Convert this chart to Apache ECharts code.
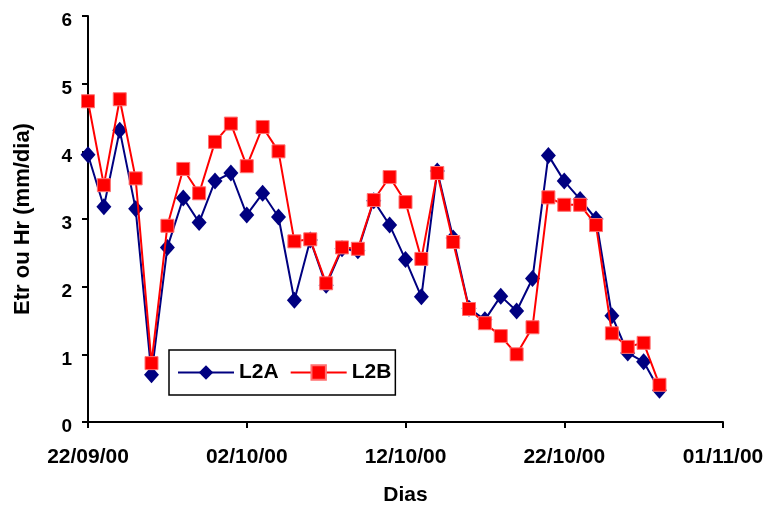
<!DOCTYPE html>
<html><head><meta charset="utf-8">
<script src="https://cdn.jsdelivr.net/npm/echarts@6/dist/echarts.min.js"></script>
<style>html,body{margin:0;padding:0;background:#fff}#c{width:767px;height:506px}</style>
</head><body><div id="c"></div>
<script>
// day offsets from 22/09/00
const days = [0,1,2,3,4,5,6,7,8,9,10,11,12,13,14,15,16,17,18,19,20,21,22,23,24,25,26,27,28,29,30,31,32,33,34,35,36];
const l2a = [3.95,3.18,4.31,3.15,0.70,2.58,3.31,2.95,3.56,3.68,3.06,3.38,3.03,1.80,2.69,2.02,2.56,2.53,3.27,2.91,2.40,1.85,3.71,2.72,1.68,1.51,1.86,1.64,2.12,3.94,3.56,3.29,3.00,1.57,1.02,0.89,0.47];
const l2b = [4.74,3.50,4.77,3.60,0.87,2.90,3.74,3.38,4.14,4.41,3.78,4.36,4.00,2.67,2.70,2.05,2.58,2.56,3.28,3.62,3.25,2.41,3.68,2.66,1.67,1.46,1.27,1.00,1.40,3.32,3.21,3.21,2.91,1.31,1.11,1.17,0.55];
const xTickLabels = ['22/09/00','02/10/00','12/10/00','22/10/00','01/11/00'];
const yTicks = [0,1,2,3,4,5,6];

const font = 'Arial, "Liberation Sans", sans-serif';
const chart = echarts.init(document.getElementById('c'));
chart.setOption({
  backgroundColor: '#fff',
  animation: false,
  grid: {left: 88, right: 44, top: 16, bottom: 84, outerBoundsMode: 'none', containLabel: false},
  xAxis: {
    type: 'value', min: 0, max: 40, interval: 10,
    name: 'Dias', nameLocation: 'middle', nameGap: 63,
    nameTextStyle: {fontFamily: font, fontWeight: 'bold', fontSize: 21, color: '#000'},
    axisLine: {lineStyle: {color: '#000', width: 2}},
    axisTick: {show: true, length: 6, lineStyle: {color: '#000', width: 2}},
    axisLabel: {margin: 25, fontFamily: font, fontWeight: 'bold', fontSize: 21, color: '#000',
      formatter: v => xTickLabels[Math.round(v/10)] || ''},
    splitLine: {show: false}
  },
  yAxis: {
    type: 'value', min: yTicks[0], max: yTicks[yTicks.length-1], interval: 1,
    name: 'Etr ou Hr (mm/dia)', nameLocation: 'middle', nameGap: 54,
    nameTextStyle: {fontFamily: font, fontWeight: 'bold', fontSize: 22, color: '#000'},
    axisLine: {show: true, lineStyle: {color: '#000', width: 2}},
    axisTick: {show: true, length: 6, lineStyle: {color: '#000', width: 2}},
    axisLabel: {margin: 16, verticalAlign: 'top', lineHeight: 10, fontFamily: font, fontWeight: 'bold', fontSize: 19, color: '#000'},
    splitLine: {show: false}
  },
  legend: {
    left: 169, top: 350,
    orient: 'horizontal', itemGap: 11, itemWidth: 56, itemHeight: 18,
    padding: [12, 4, 12, 8],
    borderColor: '#000', borderWidth: 1.5, backgroundColor: '#fff',
    textStyle: {fontFamily: font, fontWeight: 'bold', fontSize: 21, lineHeight: 20, color: '#000'},
    data: ['L2A', 'L2B']
  },
  series: [
    {name: 'L2A', type: 'line', data: days.map((d,i)=>[d, l2a[i]]),
     symbol: 'diamond', symbolSize: [15, 17], z: 2,
     lineStyle: {color: '#000080', width: 2}, itemStyle: {color: '#000080'}},
    {name: 'L2B', type: 'line', data: days.map((d,i)=>[d, l2b[i]]),
     symbol: 'rect', symbolSize: 13, z: 3,
     lineStyle: {color: '#ff0000', width: 2},
     itemStyle: {color: '#ff0000', borderColor: '#ff7070', borderWidth: 1}}
  ]
});
</script></body></html>
